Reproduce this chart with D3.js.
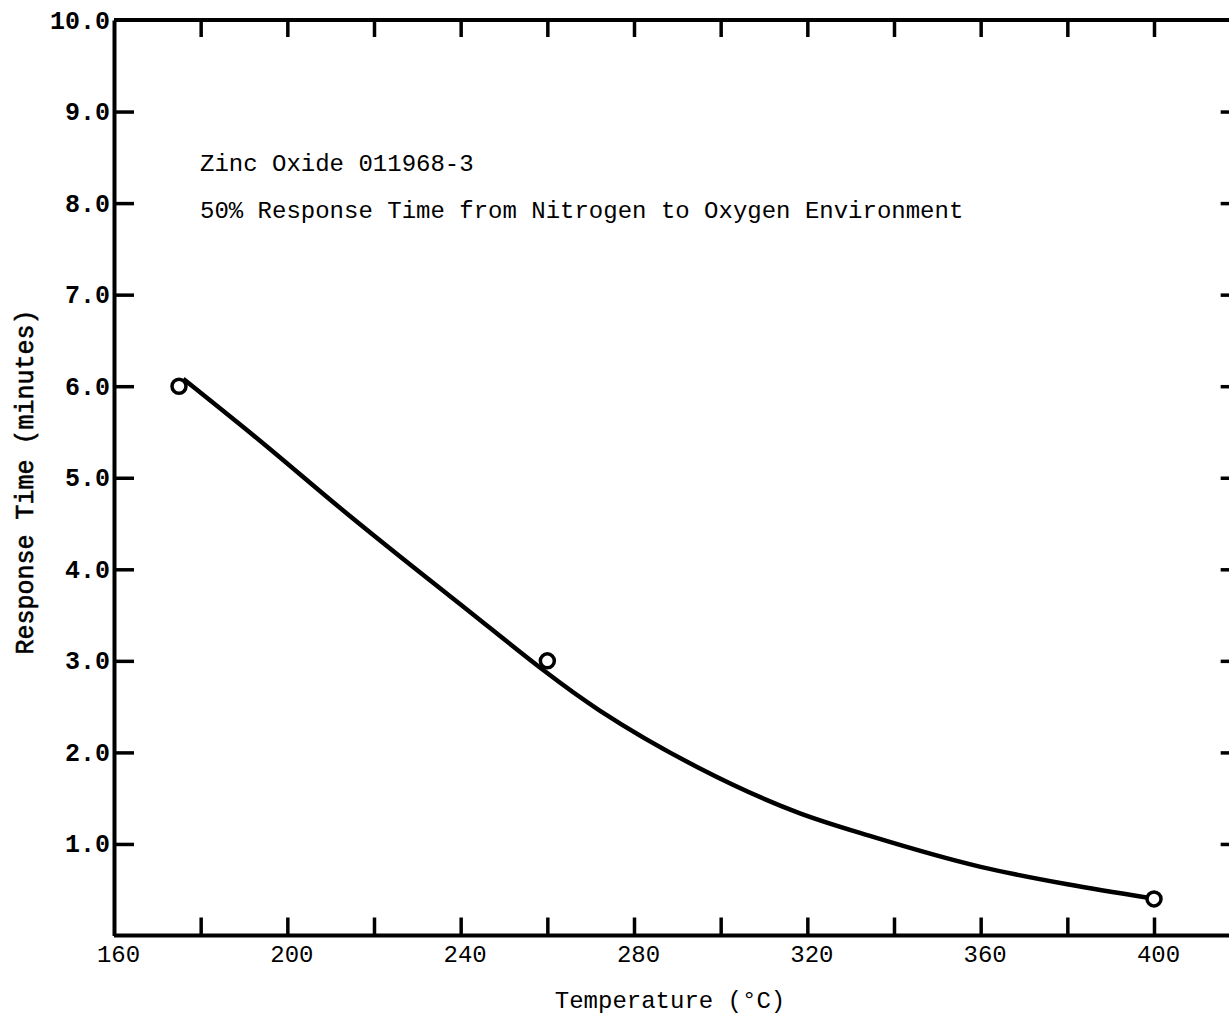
<!DOCTYPE html>
<html>
<head>
<meta charset="utf-8">
<script src="https://cdn.jsdelivr.net/npm/d3@7"></script>
<style>
  body { margin: 0; background: #fff; }
  text { font-family: "Liberation Mono", "DejaVu Sans Mono", monospace; fill: #000; }
</style>
</head>
<body>
<div id="chart"></div>
<script>
// measured points
var pointTemps = [175, 260, 400];
var pointTimes = [6.0, 3.0, 0.4];

// fitted curve
var curveTemps = [176, 192, 215, 238, 272, 295, 318, 335, 360, 380, 399];
var curveTimes = [6.08, 5.47, 4.56, 3.69, 2.46, 1.83, 1.34, 1.08, 0.75, 0.56, 0.41];

var xTicks = [160, 180, 200, 220, 240, 260, 280, 300, 320, 340, 360, 380, 400, 420];
var yTicks = [1, 2, 3, 4, 5, 6, 7, 8, 9, 10];

var titleLines = ["Zinc Oxide 011968-3", "50% Response Time from Nitrogen to Oxygen Environment"];

var width = 1229, height = 1017;
var svg = d3.select('#chart').append('svg')
            .attr('width', width).attr('height', height);

var x = d3.scaleLinear().domain([160, 400]).range([114, 1154]);
var y = d3.scaleLinear().domain([0, 10]).range([935.5, 20]);

function styleAxis(g) {
  g.select('.domain').attr('stroke', '#000').attr('stroke-width', 4);
  g.selectAll('.tick line').attr('stroke', '#000').attr('stroke-width', 3.5);
}

// bottom axis, ticks pointing up
var bottomAxis = svg.append('g').attr('transform', 'translate(0,' + y(0) + ')')
  .call(d3.axisBottom(x).tickValues(xTicks).tickSize(-18).tickSizeOuter(0).tickPadding(12)
        .tickFormat(function(d){ return d % 40 === 0 && d <= 400 ? d : ''; }));
bottomAxis.select('.domain').attr('d', 'M' + x(160) + ',0H' + width);
styleAxis(bottomAxis);
bottomAxis.selectAll('.tick text').attr('font-size', 24).attr('dx', 4).attr('dy', '0.6em');
bottomAxis.selectAll('.tick').filter(function(d){ return d === 160; }).select('line').remove();

// top axis, ticks pointing down
var topAxis = svg.append('g').attr('transform', 'translate(0,' + y(10) + ')')
  .call(d3.axisTop(x).tickValues(xTicks.slice(1)).tickSize(-17).tickSizeOuter(0).tickFormat(''));
topAxis.select('.domain').attr('d', 'M' + x(160) + ',0H' + width);
styleAxis(topAxis);

// left axis
var leftAxis = svg.append('g').attr('transform', 'translate(' + x(160) + ',0)')
  .call(d3.axisLeft(y).tickValues(yTicks).tickSize(-20).tickSizeOuter(0).tickPadding(4)
        .tickFormat(d3.format('.1f')));
styleAxis(leftAxis);
leftAxis.selectAll('.tick text').attr('font-size', 25).attr('font-weight', 'bold');
leftAxis.selectAll('.tick').filter(function(d){ return d === 10; }).select('line').remove();

// right axis (line itself falls outside the picture)
var rightAxis = svg.append('g').attr('transform', 'translate(' + x(420) + ',0)')
  .call(d3.axisRight(y).tickValues(yTicks.slice(0, 9)).tickSize(-20).tickSizeOuter(0).tickFormat(''));
styleAxis(rightAxis);

// curve
var line = d3.line()
  .x(function(d){ return x(d[0]); })
  .y(function(d){ return y(d[1]); })
  .curve(d3.curveMonotoneX);
svg.append('path')
  .datum(d3.zip(curveTemps, curveTimes))
  .attr('d', line)
  .attr('fill', 'none').attr('stroke', '#000').attr('stroke-width', 4.5);

// points
svg.append('g').selectAll('circle')
  .data(d3.zip(pointTemps, pointTimes))
  .enter().append('circle')
  .attr('cx', function(d){ return x(d[0]); })
  .attr('cy', function(d){ return y(d[1]); })
  .attr('r', 7)
  .attr('fill', '#fff').attr('stroke', '#000').attr('stroke-width', 3.5);

// annotation
svg.append('g').selectAll('text').data(titleLines).enter().append('text')
  .attr('x', 200).attr('y', function(d, i){ return 171 + i * 47; })
  .attr('font-size', 24)
  .text(function(d){ return d; });

// axis titles
svg.append('text')
  .attr('x', 670).attr('y', 1008)
  .attr('text-anchor', 'middle').attr('font-size', 24)
  .text('Temperature (°C)');

svg.append('text')
  .attr('transform', 'translate(33,482) rotate(-90)')
  .attr('text-anchor', 'middle').attr('font-size', 25)
  .attr('stroke', '#000').attr('stroke-width', 0.6)
  .text('Response Time (minutes)');
</script>
</body>
</html>
